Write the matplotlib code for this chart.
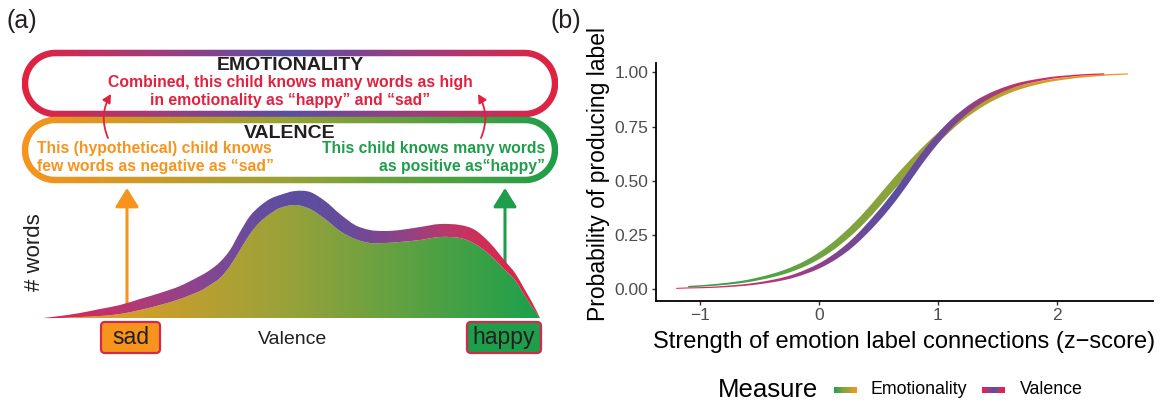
import numpy as np
import matplotlib
matplotlib.use("Agg")
import matplotlib.pyplot as plt
from matplotlib.path import Path
from matplotlib.patches import PathPatch, FancyBboxPatch, FancyArrowPatch
from matplotlib.colors import LinearSegmentedColormap

plt.rcParams['font.family'] = ['Liberation Sans', 'DejaVu Sans']

# ---------------- data: panel (b) -----------------
valence_x = [-1.2, -1.1, -1.0, -0.9, -0.8, -0.7, -0.6, -0.5, -0.4, -0.3, -0.2, -0.1,
             0.0, 0.1, 0.2, 0.3, 0.4, 0.5, 0.6, 0.7, 0.8, 0.9, 1.0, 1.1, 1.2, 1.3,
             1.4, 1.5, 1.6, 1.7, 1.8, 1.9, 2.0, 2.1, 2.2, 2.3, 2.4]
valence_p = [0.003, 0.005, 0.006, 0.008, 0.011, 0.015, 0.020, 0.027, 0.036, 0.047,
             0.062, 0.082, 0.106, 0.137, 0.175, 0.221, 0.276, 0.336, 0.402, 0.475,
             0.552, 0.627, 0.694, 0.755, 0.805, 0.848, 0.882, 0.909, 0.931, 0.948,
             0.960, 0.970, 0.978, 0.983, 0.988, 0.991, 0.993]
emotionality_x = [-1.1, -1.0, -0.9, -0.8, -0.7, -0.6, -0.5, -0.4, -0.3, -0.2, -0.1,
                  0.0, 0.1, 0.2, 0.3, 0.4, 0.5, 0.6, 0.7, 0.8, 0.9, 1.0, 1.1, 1.2,
                  1.3, 1.4, 1.5, 1.6, 1.7, 1.8, 1.9, 2.0, 2.1, 2.2, 2.3, 2.4, 2.5, 2.6]
emotionality_p = [0.011, 0.014, 0.018, 0.023, 0.029, 0.037, 0.048, 0.061, 0.077, 0.097,
                  0.122, 0.153, 0.190, 0.234, 0.284, 0.340, 0.402, 0.466, 0.528, 0.587,
                  0.644, 0.697, 0.747, 0.793, 0.831, 0.864, 0.891, 0.914, 0.932, 0.946,
                  0.958, 0.967, 0.974, 0.980, 0.984, 0.988, 0.991, 0.993]
x_ticks = [-1, 0, 1, 2]
x_tick_labels = ["\u22121", "0", "1", "2"]
y_ticks = [0.0, 0.25, 0.5, 0.75, 1.0]
y_tick_labels = ["0.00", "0.25", "0.50", "0.75", "1.00"]
legend_labels = ["Emotionality", "Valence"]

# ---------------- data: panel (a) illustration (# words over valence) ----------
density_x = [43, 60, 80, 100, 120, 140, 160, 180, 200, 210, 220, 230, 240, 250, 260,
             270, 280, 295, 310, 325, 340, 355, 370, 385, 400, 420, 440, 460, 475,
             490, 505, 515, 525, 533, 540]
words_outer = [0, 2, 5, 9, 13, 19, 25, 32, 42, 48, 56, 68, 86, 102, 112, 119, 123,
               127, 126, 117, 104, 93, 88, 87, 88, 91, 94, 93, 88, 75, 57, 45, 28,
               14, 0]
words_inner = [0, 0, 1, 2, 4, 8, 13, 19, 27, 33, 40, 52, 68, 84, 96, 104, 110, 113,
               109, 99, 87, 79, 75, 75, 76, 78, 81, 80, 74, 63, 48, 38, 22, 10, 0]

# ---------------- colours ----------------
RED = '#E3213F'
ORANGE = '#F7941D'
GREEN = '#1E9E4A'
PURPLE = '#5B4EA2'
DARK = '#231F20'


def smooth_path(xs, ys, first_code=Path.MOVETO):
    P = np.column_stack([xs, ys]).astype(float)
    n = len(P)
    verts = [P[0]]
    codes = [first_code]
    for i in range(n - 1):
        p0 = P[i - 1] if i > 0 else P[i]
        p1 = P[i]
        p2 = P[i + 1]
        p3 = P[i + 2] if i + 2 < n else P[i + 1]
        verts += [p1 + (p2 - p0) / 6.0, p2 - (p3 - p1) / 6.0, p2]
        codes += [Path.CURVE4] * 3
    return verts, codes


def gradient_clip(ax, path, stops, y0, y1, zorder):
    x0, x1 = stops[0][0], stops[-1][0]
    patch = PathPatch(path, facecolor='none', edgecolor='none', transform=ax.transData)
    ax.add_patch(patch)
    cmap = LinearSegmentedColormap.from_list(
        'g', [((x - x0) / (x1 - x0), c) for x, c in stops])
    grad = cmap(np.linspace(0, 1, 800))[None, :, :]
    im = ax.imshow(grad, extent=[x0, x1, y0, y1], aspect='auto', zorder=zorder,
                   interpolation='bilinear')
    im.set_clip_path(patch)
    return im


def stadium(x0, x1, y0, y1, d, n=80):
    r = (y1 - y0) / 2.0 + d
    cy = (y0 + y1) / 2.0
    rc = (y1 - y0) / 2.0
    cl, cr = x0 + rc, x1 - rc
    t1 = np.linspace(-np.pi / 2, np.pi / 2, n)
    t2 = np.linspace(np.pi / 2, 3 * np.pi / 2, n)
    pts = [(cl, cy - r), (cr, cy - r)]
    pts += list(zip(cr + r * np.cos(t1), cy + r * np.sin(t1)))
    pts += [(cl, cy + r)]
    pts += list(zip(cl + r * np.cos(t2), cy + r * np.sin(t2)))
    return np.array(pts)


def ring_path(x0, x1, y0, y1, w):
    outer = stadium(x0, x1, y0, y1, w / 2)
    inner = stadium(x0, x1, y0, y1, -w / 2)[::-1]
    verts = list(outer) + [outer[0]] + list(inner) + [inner[0]]
    codes = ([Path.MOVETO] + [Path.LINETO] * (len(outer) - 1) + [Path.CLOSEPOLY] +
             [Path.MOVETO] + [Path.LINETO] * (len(inner) - 1) + [Path.CLOSEPOLY])
    return Path(verts, codes)


W, H = 1170, 407
fig = plt.figure(figsize=(W / 100, H / 100), dpi=100)

# ================= panel (a) =================
ax_a = fig.add_axes([0, 0, 1, 1])
ax_a.set_autoscale_on(False)
ax_a.set_xlim(0, W)
ax_a.set_ylim(H, 0)
ax_a.axis('off')

ax_a.text(7, 21, "(a)", fontsize=18, color=DARK, ha='left', va='center')
ax_a.text(551, 21, "(b)", fontsize=18, color=DARK, ha='left', va='center')

# Emotionality box
emo_stops = [(22, RED), (150, '#A33C7A'), (290, PURPLE), (430, '#A33C7A'), (558, RED)]
gradient_clip(ax_a, ring_path(25, 555, 53, 114, 6.5), emo_stops, 45, 125, 2)
# Valence box
val_stops = [(22, ORANGE), (290, '#97A236'), (558, GREEN)]
gradient_clip(ax_a, ring_path(25, 555, 120, 180, 6.5), val_stops, 110, 190, 3)

ax_a.text(290, 65, "EMOTIONALITY", fontsize=14, fontweight='bold', color=DARK,
          ha='center', va='center', zorder=5)
ax_a.text(290, 83, "Combined, this child knows many words as high",
          fontsize=11.3, fontweight='bold', color=RED, ha='center', va='center', zorder=5)
ax_a.text(290, 101, "in emotionality as \u201chappy\u201d and \u201csad\u201d",
          fontsize=11.3, fontweight='bold', color=RED, ha='center', va='center', zorder=5)
ax_a.text(290, 133, "VALENCE", fontsize=14, fontweight='bold', color=DARK,
          ha='center', va='center', zorder=5)
ax_a.text(37, 149, "This (hypothetical) child knows", fontsize=11.3, fontweight='bold',
          color=ORANGE, ha='left', va='center', zorder=5)
ax_a.text(37, 167, "few words as negative as \u201csad\u201d", fontsize=11.3,
          fontweight='bold', color=ORANGE, ha='left', va='center', zorder=5)
ax_a.text(545, 149, "This child knows many words", fontsize=11.3, fontweight='bold',
          color=GREEN, ha='right', va='center', zorder=5)
ax_a.text(545, 167, "as positive as\u201chappy\u201d", fontsize=11.3, fontweight='bold',
          color=GREEN, ha='right', va='center', zorder=5)

for (xa, ya, xb, yb, rad) in [(108, 138, 111, 94, -0.25), (481, 138, 478, 94, 0.25)]:
    ax_a.add_patch(FancyArrowPatch((xa, ya), (xb, yb), connectionstyle=f"arc3,rad={rad}",
                                   arrowstyle="-|>,head_length=5,head_width=2.6",
                                   mutation_scale=1, color=RED, lw=1.3,
                                   shrinkA=0, shrinkB=0, zorder=6))

# vertical arrows
base = 318
ax_a.add_patch(FancyArrowPatch((127, 306), (127, 188),
                               arrowstyle="-|>,head_length=11.5,head_width=7.2",
                               mutation_scale=1, color=ORANGE, lw=2.2,
                               shrinkA=0, shrinkB=0, zorder=1))
ax_a.add_patch(FancyArrowPatch((505, 265), (505, 188),
                               arrowstyle="-|>,head_length=11.5,head_width=7.2",
                               mutation_scale=1, color=GREEN, lw=2.2,
                               shrinkA=0, shrinkB=0, zorder=1))

# density: fill and coloured band
dx = np.array(density_x, float)
y_out = base - np.array(words_outer, float)
y_in = base - np.array(words_inner, float)

v_in, c_in = smooth_path(dx, y_in)
fill_path = Path(v_in + [(dx[-1], base), (dx[0], base), (dx[0], base)],
                 c_in + [Path.LINETO, Path.LINETO, Path.CLOSEPOLY])
fill_stops = [(43, '#F39A21'), (290, '#98A23A'), (541, '#1BA04B')]
gradient_clip(ax_a, fill_path, fill_stops, 180, 320, 3)

v_out, c_out = smooth_path(dx, y_out)
v_back, c_back = smooth_path(dx[::-1], y_in[::-1], first_code=Path.LINETO)
band_path = Path(v_out + v_back + [v_out[0]], c_out + c_back + [Path.CLOSEPOLY])
band_stops = [(43, '#E3224A'), (127, '#B63873'), (200, '#8A4590'), (250, '#6A4C9C'),
              (300, PURPLE), (350, '#6A4B9A'), (400, '#8C4488'), (453, '#BE3769'),
              (495, '#D82A52'), (541, '#E22046')]
gradient_clip(ax_a, band_path, band_stops, 180, 320, 4)

ax_a.text(35, 252, "# words", fontsize=16, color=DARK, rotation=90,
          ha='center', va='center')
ax_a.text(293, 339, "Valence", fontsize=14, color=DARK, ha='center', va='center')

for (bx0, bx1, fc, lab) in [(101, 160, ORANGE, "sad"), (467, 541, GREEN, "happy")]:
    ax_a.add_patch(FancyBboxPatch((bx0, 322), bx1 - bx0, 31,
                                  boxstyle="round,pad=0,rounding_size=4",
                                  facecolor=fc, edgecolor='#D42A4A', lw=1.6, zorder=5))
    ax_a.text((bx0 + bx1) / 2, 337.5, lab, fontsize=16.5, color=DARK,
              ha='center', va='center', zorder=6)

# ================= panel (b) =================
L, R, T, B = 656, 1153, 62.7, 300.5
ax_b = fig.add_axes([L / W, 1 - B / H, (R - L) / W, (B - T) / H])
ax_b.set_autoscale_on(False)
ax_b.set_facecolor('none')

val_col_stops = [(-1.2, '#E8214A'), (-0.4, '#B5367A'), (0.2, '#7E4690'), (0.6, PURPLE),
                 (1.0, '#6E4A98'), (1.6, '#B43A6E'), (2.2, '#DE2452'), (2.6, '#E8214A')]
emo_col_stops = [(-1.2, '#1FA04A'), (-0.4, '#52A345'), (0.2, '#7DA33E'), (0.7, '#90A33A'),
                 (1.3, '#ACA134'), (1.9, '#D29E2A'), (2.6, ORANGE)]


def ribbon(xs, ps):
    xs = np.array(xs, float)
    ps = np.array(ps, float)
    h = 0.002 + 0.105 * ps * (1 - ps)
    v1, c1 = smooth_path(xs, ps + h)
    v2, c2 = smooth_path(xs[::-1], (ps - h)[::-1], first_code=Path.LINETO)
    return Path(v1 + v2 + [v1[0]], c1 + c2 + [Path.CLOSEPOLY])


gradient_clip(ax_b, ribbon(emotionality_x, emotionality_p), emo_col_stops, -0.1, 1.1, 2)
gradient_clip(ax_b, ribbon(valence_x, valence_p), val_col_stops, -0.1, 1.1, 3)

ax_b.set_xlim(-1.37, 2.81)
ax_b.set_ylim(-0.053, 1.045)
for s in ['top', 'right']:
    ax_b.spines[s].set_visible(False)
for s in ['left', 'bottom']:
    ax_b.spines[s].set_linewidth(1.3)
    ax_b.spines[s].set_color('black')
ax_b.set_xticks(x_ticks)
ax_b.set_xticklabels(x_tick_labels)
ax_b.set_yticks(y_ticks)
ax_b.set_yticklabels(y_tick_labels)
ax_b.tick_params(axis='both', length=3, width=1.0, color='#333333', labelsize=12.5,
                 labelcolor='#4D4D4D', pad=2.5)

fig.text(598 / W, 1 - 174 / H, "Probability of producing label", fontsize=16.5,
         rotation=90, ha='center', va='center', color='black')
fig.text(904 / W, 1 - 342 / H, "Strength of emotion label connections (z\u2212score)",
         fontsize=17, ha='center', va='center', color='black')

# legend
fig.text(818 / W, 1 - 390 / H, "Measure", fontsize=18.5, ha='right', va='center')
key_defs = [(834, emo_col_stops), (982, val_col_stops)]
for (kx, stops) in key_defs:
    kax = fig.add_axes([kx / W, 1 - 393 / H, 22 / W, 6 / H])
    cmap = LinearSegmentedColormap.from_list(
        'k', [((x - stops[0][0]) / (stops[-1][0] - stops[0][0]), c) for x, c in stops])
    kax.imshow(cmap(np.linspace(0, 1, 100))[None, :, :], aspect='auto')
    kax.axis('off')
fig.text(871 / W, 1 - 390 / H, legend_labels[0], fontsize=12.8, ha='left', va='center')
fig.text(1020 / W, 1 - 390 / H, legend_labels[1], fontsize=12.8, ha='left', va='center')

fig.savefig("out.png", dpi=100)
